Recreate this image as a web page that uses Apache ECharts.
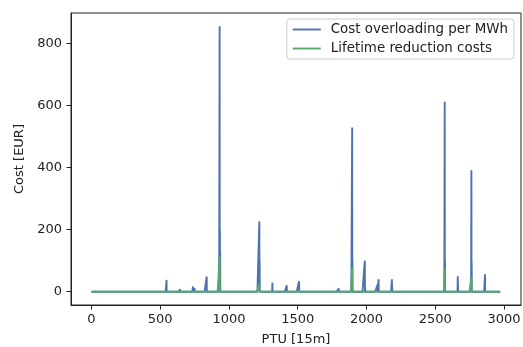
<!DOCTYPE html>
<html>
<head>
<meta charset="utf-8">
<script src="https://cdn.jsdelivr.net/npm/echarts@6/dist/echarts.min.js"></script>
<style>
  html, body { margin: 0; padding: 0; background: #fff; }
  #main { width: 523px; height: 347px; }
</style>
</head>
<body>
<div id="main"></div>
<script>
// number of PTUs (15 minute slots) in the month
const ptuCount = 2976;

// spikes of the blue series: PTU index and cost
const overloadX = [546, 643, 738, 750, 838, 932, 934, 936, 1221, 1223, 1316, 1420, 1510, 1799,
  1896, 1898, 1988, 1990, 2081, 2088, 2185, 2187, 2481, 2569, 2571, 2664, 2666, 2760, 2763, 2765, 2862];
const overloadY = [38, 9, 17, 12, 49, 855, 200, 130, 226, 98, 30, 21, 34, 10,
  529, 102, 100, 17, 23, 40, 40, 17, 4, 612, 98, 50, 20, 50, 391, 95, 56];

// spikes of the green series
const lifetimeX = [932, 1221, 1896, 2569, 2763];
const lifetimeY = [116, 25, 79, 77, 48];

const xTicks = [0, 500, 1000, 1500, 2000, 2500, 3000];
const yTicks = [0, 200, 400, 600, 800];

function buildSeries(xs, ys) {
  const vals = new Array(ptuCount).fill(0);
  xs.forEach((x, i) => { vals[x] = ys[i]; });
  return vals.map((v, i) => [i, v]);
}

const chartDom = document.getElementById("main");
const myChart = echarts.init(chartDom);

const font = "DejaVu Sans";
const fontSize = 13;
const axisColor = "#222";

const option = {
  animation: false,
  backgroundColor: "#fff",
  grid: {
    left: 71,
    top: 13,
    right: 2,
    bottom: 42,
    outerBoundsMode: "none",
    containLabel: false,
    show: true,
    borderColor: axisColor,
    borderWidth: 1,
  },
  legend: {
    orient: "vertical",
    right: 9,
    top: 19,
    padding: [4, 6, 4, 5],
    itemGap: 6,
    itemWidth: 28,
    itemHeight: 14,
    borderColor: "#ccc",
    borderWidth: 1,
    borderRadius: 3,
    backgroundColor: "rgba(255,255,255,0.8)",
    itemStyle: { opacity: 0 },
    lineStyle: { width: 1.9 },
    textStyle: { fontFamily: font, fontSize: 13.4, color: axisColor, padding: [0, 0, 0, 5] },
    data: ["Cost overloading per MWh", "Lifetime reduction costs"],
  },
  xAxis: {
    type: "value",
    min: -148.75,
    max: 3123.75,
    name: "PTU [15m]",
    nameLocation: "middle",
    nameGap: 28,
    nameTextStyle: { fontFamily: font, fontSize: fontSize, color: axisColor },
    axisLine: { show: true, onZero: false, lineStyle: { color: axisColor, width: 1 } },
    axisTick: { show: true, inside: false, length: 4.5, customValues: xTicks, lineStyle: { color: axisColor } },
    axisLabel: {
      customValues: xTicks, margin: 8, fontFamily: font, fontSize: fontSize, color: axisColor,
      formatter: (v) => String(v),
    },
    splitLine: { show: false },
  },
  yAxis: {
    type: "value",
    min: -42.75,
    max: 897.75,
    name: "Cost [EUR]",
    nameLocation: "middle",
    nameGap: 34,
    nameTextStyle: { fontFamily: font, fontSize: fontSize, color: axisColor },
    axisLine: { show: true, onZero: false, lineStyle: { color: axisColor, width: 1 } },
    axisTick: { show: true, inside: false, length: 4.5, customValues: yTicks, lineStyle: { color: axisColor } },
    axisLabel: {
      customValues: yTicks, margin: 9, fontFamily: font, fontSize: fontSize, color: axisColor,
      formatter: (v) => String(v),
    },
    splitLine: { show: false },
  },
  series: [
    {
      name: "Cost overloading per MWh",
      type: "line",
      showSymbol: false,
      symbol: "none",
      color: "#4C72B0",
      lineStyle: { width: 1.9, color: "#4C72B0" },
      data: buildSeries(overloadX, overloadY),
    },
    {
      name: "Lifetime reduction costs",
      type: "line",
      showSymbol: false,
      symbol: "none",
      color: "#55A868",
      lineStyle: { width: 1.9, color: "#55A868" },
      data: buildSeries(lifetimeX, lifetimeY),
    },
  ],
};

myChart.setOption(option);
</script>
</body>
</html>
